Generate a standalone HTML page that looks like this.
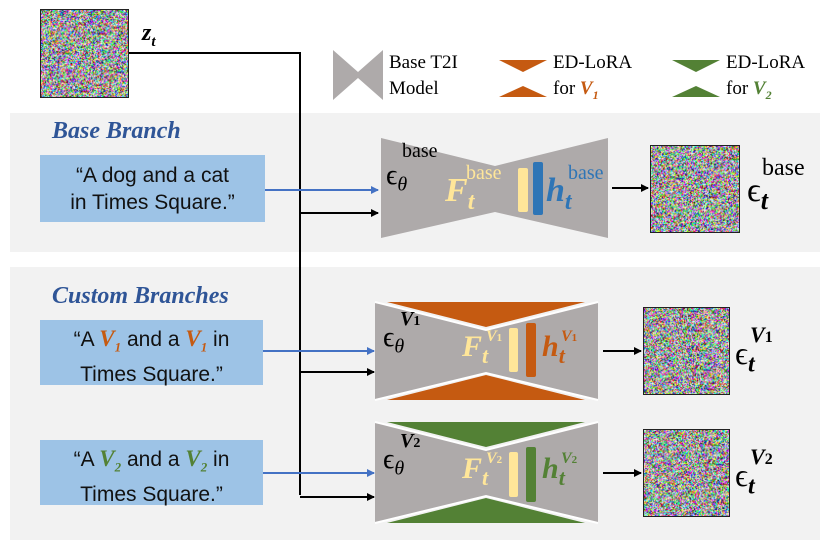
<!DOCTYPE html>
<html><head><meta charset="utf-8"><style>
html,body{margin:0;padding:0;background:#fff}
#w{position:relative;width:830px;height:548px;overflow:hidden;font-family:"Liberation Serif",serif}
canvas{position:absolute;border:1.5px solid #222;box-sizing:border-box}
.t{position:absolute;font-family:"Liberation Sans",sans-serif;font-size:21px;color:#111;text-align:center;background:#9dc3e6;line-height:27px;box-sizing:border-box;white-space:nowrap}
.t b{font-family:"Liberation Serif",serif;font-style:italic;font-size:23px}
.t sub{font-size:13px}
.s{position:absolute;white-space:nowrap}
</style></head><body><div id="w">
<svg width="830" height="548" style="position:absolute;left:0;top:0">
<defs>
<marker id="ab" markerWidth="8" markerHeight="8" refX="7" refY="4" orient="auto" markerUnits="userSpaceOnUse"><path d="M0,0 L8,4 L0,8z" fill="#000"/></marker>
<marker id="ao" markerWidth="8" markerHeight="8" refX="7" refY="4" orient="auto" markerUnits="userSpaceOnUse"><path d="M0,0 L8,4 L0,8z" fill="#4472c4"/></marker>
</defs>
<rect x="10" y="113" width="810" height="139" fill="#f2f2f2"/>
<rect x="10" y="267" width="810" height="273" fill="#f2f2f2"/>
<polygon points="333,50 358,72 383,50 383,100 358,78 333,100" fill="#aeaaaa"/>
<polygon points="499,60 547,60 523,72" fill="#c55a11"/>
<polygon points="499,97 547,97 523,86" fill="#c55a11"/>
<polygon points="672,60 720,60 696,72" fill="#538135"/>
<polygon points="672,97 720,97 696,86" fill="#538135"/>
<polyline points="128,53 300,53 300,495" fill="none" stroke="#000" stroke-width="2"/>
<line x1="300" y1="213" x2="378" y2="213" stroke="#000" stroke-width="2" marker-end="url(#ab)"/>
<line x1="300" y1="372" x2="374" y2="372" stroke="#000" stroke-width="2" marker-end="url(#ab)"/>
<line x1="300" y1="497" x2="374" y2="497" stroke="#000" stroke-width="2" marker-end="url(#ab)"/>
<line x1="265" y1="190" x2="378" y2="190" stroke="#4472c4" stroke-width="2" marker-end="url(#ao)"/>
<line x1="263" y1="351" x2="374" y2="351" stroke="#4472c4" stroke-width="2" marker-end="url(#ao)"/>
<line x1="263" y1="473" x2="374" y2="473" stroke="#4472c4" stroke-width="2" marker-end="url(#ao)"/>
<polygon points="381,138 495,166 608,138 608,238 495,212 381,238" fill="#aeaaaa"/>
<rect x="518" y="168" width="10" height="44" rx="2" fill="#ffe699"/>
<rect x="533" y="162" width="10" height="53" rx="2" fill="#2e75b6"/>
<line x1="612" y1="188" x2="648" y2="188" stroke="#000" stroke-width="2" marker-end="url(#ab)"/>
<polygon points="375,302 486,330 598,302 598,400 486,373 375,400" fill="#aeaaaa"/>
<polygon points="387,302 585,302 486,327" fill="#c55a11"/>
<polygon points="387,400 585,400 486,375" fill="#c55a11"/>
<polyline points="375,302 486,330 598,302" fill="none" stroke="#fff" stroke-width="2"/>
<polyline points="375,400 486,373 598,400" fill="none" stroke="#fff" stroke-width="2"/>
<rect x="509" y="328" width="9" height="44" rx="2" fill="#ffe699"/>
<rect x="526" y="323" width="10" height="54" rx="2" fill="#c55a11"/>
<line x1="603" y1="351" x2="641" y2="351" stroke="#000" stroke-width="2" marker-end="url(#ab)"/>
<polygon points="375,422 486,450 598,422 598,523 486,496 375,523" fill="#aeaaaa"/>
<polygon points="387,422 585,422 486,447" fill="#538135"/>
<polygon points="387,523 585,523 486,498" fill="#538135"/>
<polyline points="375,422 486,450 598,422" fill="none" stroke="#fff" stroke-width="2"/>
<polyline points="375,523 486,496 598,523" fill="none" stroke="#fff" stroke-width="2"/>
<rect x="509" y="452" width="9" height="45" rx="2" fill="#ffe699"/>
<rect x="526" y="447" width="10" height="55" rx="2" fill="#538135"/>
<line x1="603" y1="473" x2="641" y2="473" stroke="#000" stroke-width="2" marker-end="url(#ab)"/>
</svg>
<canvas id="c0" width="89" height="89" style="left:40px;top:9px;width:89px;height:89px"></canvas>
<canvas id="c1" width="90" height="88" style="left:650px;top:145px;width:90px;height:88px"></canvas>
<canvas id="c2" width="87" height="88" style="left:643px;top:307px;width:87px;height:88px"></canvas>
<canvas id="c3" width="87" height="88" style="left:643px;top:429px;width:87px;height:88px"></canvas>

<div class="s" style="left:142px;top:20px;font-size:24px;font-weight:bold;font-style:italic">z<sub style="font-size:15px">t</sub></div>
<div class="s" style="left:389px;top:52px;font-size:19px">Base T2I</div>
<div class="s" style="left:389px;top:78px;font-size:19px">Model</div>
<div class="s" style="left:553px;top:52px;font-size:19px">ED-LoRA</div>
<div class="s" style="left:553px;top:78px;font-size:19px">for <i style="color:#c55a11;font-weight:bold">V<sub style="font-size:12px">1</sub></i></div>
<div class="s" style="left:726px;top:52px;font-size:19px">ED-LoRA</div>
<div class="s" style="left:726px;top:78px;font-size:19px">for <i style="color:#538135;font-weight:bold">V<sub style="font-size:12px">2</sub></i></div>

<div class="s" style="left:52px;top:118px;font-size:24px;font-weight:bold;font-style:italic;color:#2f5597">Base Branch</div>
<div class="s" style="left:52px;top:283px;font-size:24px;font-weight:bold;font-style:italic;color:#2f5597">Custom Branches</div>

<div class="t" style="left:40px;top:155px;width:225px;height:67px;padding-top:7px">“A dog and a cat<br>in Times Square.”</div>
<div class="t" style="left:40px;top:320px;width:223px;height:65px;padding-top:5px">“A <b style="color:#c55a11">V<sub>1</sub></b> and a <b style="color:#c55a11">V<sub>1</sub></b> in<br>Times Square.”</div>
<div class="t" style="left:40px;top:440px;width:223px;height:65px;padding-top:5px">“A <b style="color:#538135">V<sub>2</sub></b> and a <b style="color:#538135">V<sub>2</sub></b> in<br>Times Square.”</div>

<div class="s" style="left:386px;top:160px;font-size:28px">ϵ<sub style="font-size:20px;font-style:italic">θ</sub></div>
<div class="s" style="left:402px;top:140px;font-size:20px">base</div>
<div class="s" style="left:445px;top:172px;font-size:34px;font-weight:bold;font-style:italic;color:#ffe699">F<sub style="font-size:24px">t</sub></div>
<div class="s" style="left:466px;top:162px;font-size:20px;color:#ffe699">base</div>
<div class="s" style="left:546px;top:172px;font-size:34px;font-weight:bold;font-style:italic;color:#2e75b6">h<sub style="font-size:24px">t</sub></div>
<div class="s" style="left:568px;top:162px;font-size:20px;color:#2e75b6">base</div>
<div class="s" style="left:747px;top:172px;font-size:34px">ϵ<sub style="font-size:26px;font-style:italic;font-weight:bold">t</sub></div>
<div class="s" style="left:762px;top:155px;font-size:24px">base</div>

<div class="s" style="left:383px;top:322px;font-size:28px">ϵ<sub style="font-size:20px;font-style:italic">θ</sub></div>
<div class="s" style="left:400px;top:308px;font-size:20px;font-style:italic;font-weight:bold">V<span style="font-size:14px;font-style:normal">1</span></div>
<div class="s" style="left:462px;top:330px;font-size:30px;font-weight:bold;font-style:italic;color:#ffe699">F<sub style="font-size:22px">t</sub></div>
<div class="s" style="left:486px;top:328px;font-size:16px;font-style:italic;font-weight:bold;color:#ffe699">V<span style="font-size:11px;font-style:normal">1</span></div>
<div class="s" style="left:542px;top:330px;font-size:30px;font-weight:bold;font-style:italic;color:#c55a11">h<sub style="font-size:22px">t</sub></div>
<div class="s" style="left:561px;top:328px;font-size:16px;font-style:italic;font-weight:bold;color:#c55a11">V<span style="font-size:11px;font-style:normal">1</span></div>
<div class="s" style="left:735px;top:335px;font-size:32px">ϵ<sub style="font-size:24px;font-style:italic;font-weight:bold">t</sub></div>
<div class="s" style="left:750px;top:322px;font-size:22px;font-style:italic;font-weight:bold">V<span style="font-size:16px;font-style:normal">1</span></div>

<div class="s" style="left:383px;top:444px;font-size:28px">ϵ<sub style="font-size:20px;font-style:italic">θ</sub></div>
<div class="s" style="left:400px;top:430px;font-size:20px;font-style:italic;font-weight:bold">V<span style="font-size:14px;font-style:normal">2</span></div>
<div class="s" style="left:462px;top:452px;font-size:30px;font-weight:bold;font-style:italic;color:#ffe699">F<sub style="font-size:22px">t</sub></div>
<div class="s" style="left:486px;top:450px;font-size:16px;font-style:italic;font-weight:bold;color:#ffe699">V<span style="font-size:11px;font-style:normal">2</span></div>
<div class="s" style="left:542px;top:452px;font-size:30px;font-weight:bold;font-style:italic;color:#538135">h<sub style="font-size:22px">t</sub></div>
<div class="s" style="left:561px;top:450px;font-size:16px;font-style:italic;font-weight:bold;color:#538135">V<span style="font-size:11px;font-style:normal">2</span></div>
<div class="s" style="left:735px;top:457px;font-size:32px">ϵ<sub style="font-size:24px;font-style:italic;font-weight:bold">t</sub></div>
<div class="s" style="left:750px;top:444px;font-size:22px;font-style:italic;font-weight:bold">V<span style="font-size:16px;font-style:normal">2</span></div>
</div>
<script>
var s=12345;function r(){s=(s*1103515245+12345)&0x7fffffff;return s/0x7fffffff;}
function ch(){return r()<0.55?200+r()*55:r()*110;}
['c0','c1','c2','c3'].forEach(function(id){var c=document.getElementById(id),x=c.getContext('2d');var W=c.width,H=c.height,d=x.createImageData(W,H);for(var i=0;i<W*H;i++){d.data[i*4]=ch();d.data[i*4+1]=ch();d.data[i*4+2]=ch();d.data[i*4+3]=255;}x.putImageData(d,0,0);});
</script>
</body></html>
